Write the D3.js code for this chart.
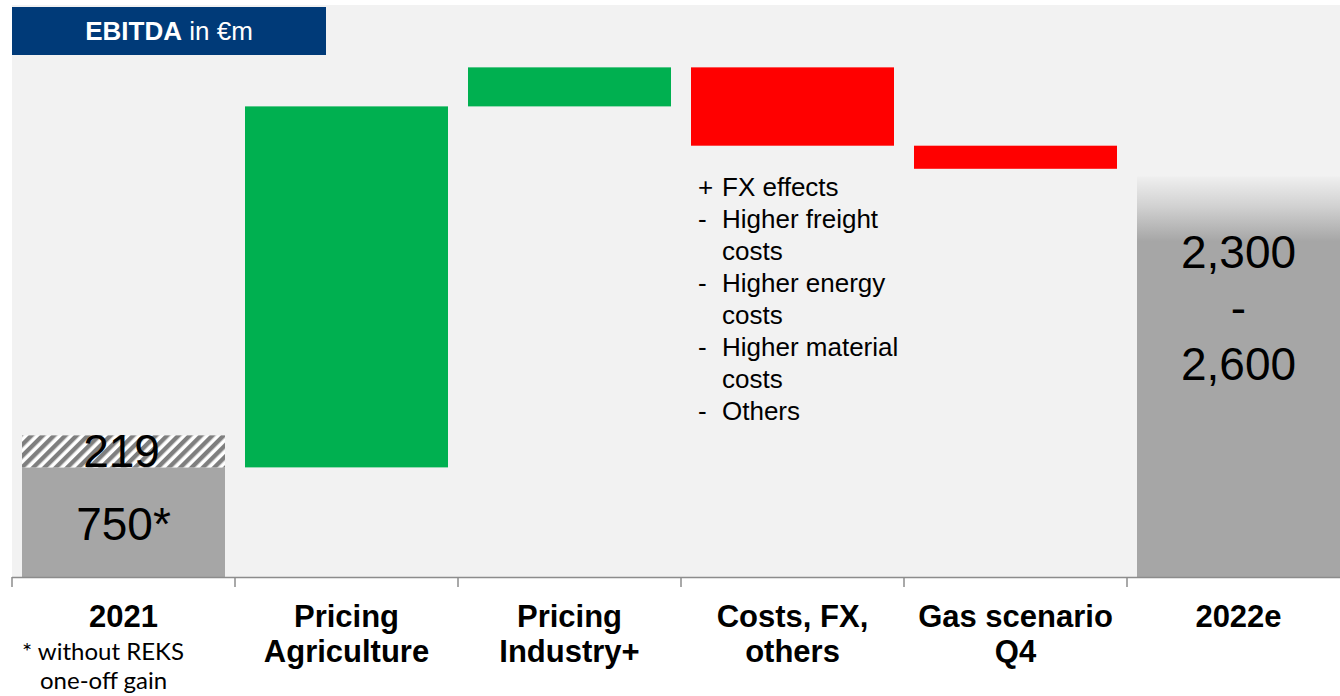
<!DOCTYPE html>
<html>
<head>
<meta charset="utf-8">
<script src="https://cdn.jsdelivr.net/npm/d3@7"></script>
<style>
  html, body { margin: 0; padding: 0; background: #ffffff; }
  svg { display: block; }
</style>
</head>
<body>
<svg id="chart" width="1340" height="696"></svg>
<script>
// ---------------- data ----------------
const categories = ["2021", "Pricing Agriculture", "Pricing Industry+", "Costs, FX, others", "Gas scenario Q4", "2022e"];
const categoryLines = [["2021"], ["Pricing", "Agriculture"], ["Pricing", "Industry+"], ["Costs, FX,", "others"], ["Gas scenario", "Q4"], ["2022e"]];
const base2021 = 750;          // EBITDA 2021 without REKS one-off gain
const reksGain = 219;          // REKS one-off gain (hatched)
const bridgeCategories = ["Pricing Agriculture", "Pricing Industry+", "Costs, FX, others", "Gas scenario Q4"];
const bridgeDeltas = [2470, 267, -536, -158];
const outlookLow = 2300;
const outlookHigh = 2600;
const outlookFadeTop = 2740;   // top of the faded part of the 2022e bar
const outlookLabels = ["2,300", "-", "2,600"];
const costNotes = [["+", "FX effects"], ["-", "Higher freight"], ["", "costs"], ["-", "Higher energy"], ["", "costs"], ["-", "Higher material"], ["", "costs"], ["-", "Others"]];
const footnote = ["* without REKS", "one-off gain"];
const yDomainMax = 3900;

// ---------------- layout ----------------
const svg = d3.select("#chart");
const W = 1340;
const plotLeft = 12, plotTop = 5, baseY = 577;

const x = d3.scaleBand().domain(categories).range([12, 1350])
  .paddingInner(20 / 223).paddingOuter(10 / 223);
const y = d3.scaleLinear().domain([0, yDomainMax]).range([baseY, 7]);
const step = x.step();

const defs = svg.append("defs");
const pat = defs.append("pattern").attr("id", "hatch")
  .attr("patternUnits", "userSpaceOnUse").attr("width", 8).attr("height", 8)
  .attr("patternTransform", "rotate(45)");
pat.append("rect").attr("width", 8).attr("height", 8).attr("fill", "#ffffff");
pat.append("rect").attr("width", 4.4).attr("height", 8).attr("fill", "#7f7f7f");

const grad = defs.append("linearGradient").attr("id", "fade")
  .attr("x1", 0).attr("y1", 0).attr("x2", 0).attr("y2", 1);
grad.append("stop").attr("offset", "0").attr("stop-color", "#efefef");
grad.append("stop").attr("offset", "0.45").attr("stop-color", "#d2d2d2");
grad.append("stop").attr("offset", "1").attr("stop-color", "#a6a6a6");

// plot background
svg.append("rect").attr("x", plotLeft).attr("y", plotTop)
  .attr("width", W - plotLeft).attr("height", baseY - plotTop).attr("fill", "#f2f2f2");

// header box
const hdr = svg.append("g");
hdr.append("rect").attr("x", 12).attr("y", 7).attr("width", 314).attr("height", 48).attr("fill", "#003a78");
const ht = hdr.append("text").attr("x", 169).attr("y", 40).attr("text-anchor", "middle")
  .attr("font-family", "'Liberation Sans', Arial, sans-serif").attr("font-size", 26).attr("fill", "#ffffff");
ht.append("tspan").attr("font-weight", "bold").text("EBITDA");
ht.append("tspan").text(" in €m");

// 2021 bar
const c0 = categories[0];
svg.append("rect").attr("x", x(c0)).attr("width", x.bandwidth())
  .attr("y", y(base2021)).attr("height", y(0) - y(base2021)).attr("fill", "#a6a6a6");
svg.append("rect").attr("x", x(c0)).attr("width", x.bandwidth())
  .attr("y", y(base2021 + reksGain)).attr("height", y(base2021) - y(base2021 + reksGain)).attr("fill", "url(#hatch)");

// bridge bars
let running = base2021;
const bridge = bridgeCategories.map((c, i) => {
  const start = running, end = running + bridgeDeltas[i];
  running = end;
  return { cat: c, start, end, delta: bridgeDeltas[i] };
});
svg.selectAll("rect.bridge").data(bridge).join("rect").attr("class", "bridge")
  .attr("x", d => x(d.cat)).attr("width", x.bandwidth())
  .attr("y", d => y(Math.max(d.start, d.end)))
  .attr("height", d => Math.abs(y(d.start) - y(d.end)))
  .attr("fill", d => d.delta >= 0 ? "#00b050" : "#ff0000");

// 2022e bar
const c5 = categories[5];
svg.append("rect").attr("x", x(c5)).attr("width", x.bandwidth())
  .attr("y", y(outlookLow)).attr("height", y(0) - y(outlookLow)).attr("fill", "#a6a6a6");
svg.append("rect").attr("x", x(c5)).attr("width", x.bandwidth())
  .attr("y", y(outlookFadeTop)).attr("height", y(outlookLow) - y(outlookFadeTop) + 0.5).attr("fill", "url(#fade)");

// value labels
const numFont = "'Liberation Sans', Arial, sans-serif";
const cx0 = x(c0) + x.bandwidth() / 2;
svg.append("text").attr("x", cx0 - 2).attr("y", y(base2021)).attr("text-anchor", "middle")
  .attr("font-family", numFont).attr("font-size", 46).attr("fill", "#000").text(reksGain);
svg.append("text").attr("x", cx0).attr("y", y(base2021) + 73).attr("text-anchor", "middle")
  .attr("font-family", numFont).attr("font-size", 46).attr("fill", "#000").text(base2021 + "*");

const cx5 = x(c5) + x.bandwidth() / 2;
svg.selectAll("text.outlook").data(outlookLabels).join("text").attr("class", "outlook")
  .attr("x", cx5).attr("y", (d, i) => y(outlookLow) + 27 + i * 56)
  .attr("text-anchor", "middle").attr("font-family", numFont).attr("font-size", 46).attr("fill", "#000")
  .text(d => d);

// cost notes
const costBar = bridge[2];
const nx = x(costBar.cat);
const ny0 = y(costBar.end) + 50;
const notes = svg.append("g").attr("font-family", numFont).attr("font-size", 26).attr("fill", "#000");
costNotes.forEach((n, i) => {
  if (n[0]) notes.append("text").attr("x", nx + 7).attr("y", ny0 + i * 32).text(n[0]);
  notes.append("text").attr("x", nx + 31).attr("y", ny0 + i * 32).text(n[1]);
});

// axis line and ticks
svg.append("line").attr("x1", plotLeft).attr("x2", W).attr("y1", baseY + 0.5).attr("y2", baseY + 0.5)
  .attr("stroke", "#8c8c8c").attr("stroke-width", 1.5);
const tickXs = d3.range(categories.length).map(i => x.range()[0] + i * step);
svg.selectAll("line.tick").data(tickXs).join("line").attr("class", "tick")
  .attr("x1", d => d).attr("x2", d => d).attr("y1", baseY).attr("y2", baseY + 10)
  .attr("stroke", "#8c8c8c").attr("stroke-width", 1.5);

// category labels
categories.forEach((c, i) => {
  const t = svg.append("text").attr("x", x(c) + x.bandwidth() / 2).attr("y", 627)
    .attr("text-anchor", "middle").attr("font-family", numFont).attr("font-weight", "bold")
    .attr("font-size", 31).attr("fill", "#000");
  categoryLines[i].forEach((l, j) => {
    t.append("tspan").attr("x", x(c) + x.bandwidth() / 2).attr("dy", j === 0 ? 0 : 35).text(l);
  });
});

// footnote
svg.append("text").attr("x", 22).attr("y", 660).attr("font-family", "Lato, 'Noto Sans', sans-serif")
  .attr("font-size", 24).attr("fill", "#000").text(footnote[0]);
svg.append("text").attr("x", 40).attr("y", 689).attr("font-family", "Lato, 'Noto Sans', sans-serif")
  .attr("font-size", 24).attr("fill", "#000").text(footnote[1]);
</script>
</body>
</html>
